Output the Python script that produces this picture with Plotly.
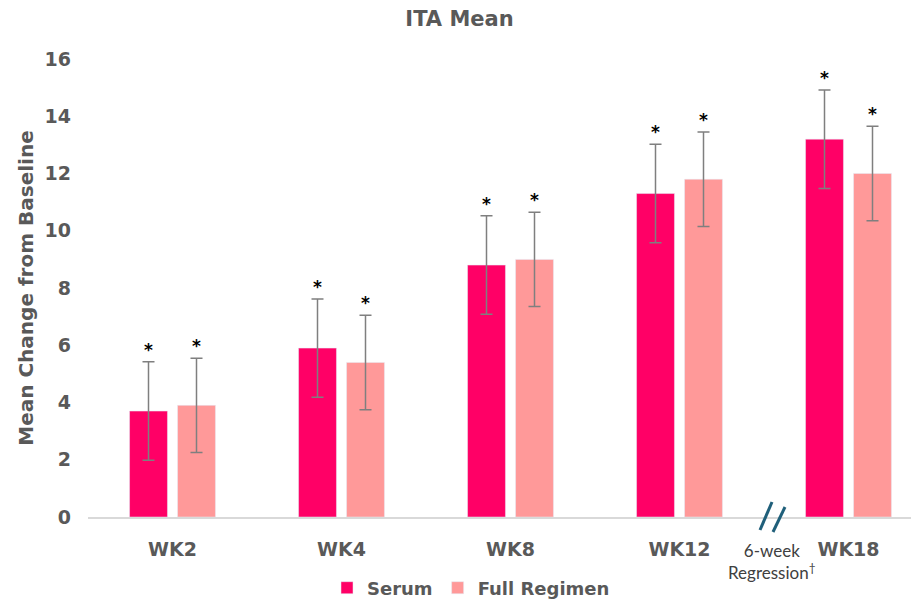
import plotly.graph_objects as go

categories = ["WK2", "WK4", "WK8", "WK12", "WK18"]
serum = [3.7, 5.9, 8.8, 11.3, 13.2]
serum_err = [1.72, 1.72, 1.72, 1.72, 1.72]
full_regimen = [3.9, 5.4, 9.0, 11.8, 12.0]
full_err = [1.65, 1.65, 1.65, 1.65, 1.65]
y_ticks = [0, 2, 4, 6, 8, 10, 12, 14, 16]

GREY = "#595959"
FONT = "DejaVu Sans"

# The page body has an 8px margin, so the figure is sized to fit the window.
W, H = 911, 597
ML, MT, MB, MR = 80, 51, 88, 0
PW = W - ML - MR
PH = H - MT - MB

fig = go.Figure()
fig.add_trace(go.Bar(
    name="Serum", x=categories, y=serum, marker_color="#FF0066",
    error_y=dict(type="data", array=serum_err, color="#7f7f7f", thickness=1.5, width=6),
))
fig.add_trace(go.Bar(
    name="Full Regimen", x=categories, y=full_regimen, marker_color="#FF9999",
    error_y=dict(type="data", array=full_err, color="#7f7f7f", thickness=1.5, width=6),
))

annotations = []
for i, c in enumerate(categories):
    for vals, errs, shift in ((serum, serum_err, -24), (full_regimen, full_err, 24)):
        annotations.append(dict(
            x=c, y=vals[i] + errs[i], xref="x", yref="y", text="<b>*</b>", showarrow=False,
            xshift=shift, yshift=12, font=dict(family=FONT, size=17, color="black"),
        ))

# "6-week Regression" label (plot-area relative, reference pixel positions)
annotations.append(dict(
    x=(772 - 88) / PW, y=(517 - 561) / PH, xref="paper", yref="paper",
    xanchor="center", yanchor="middle",
    text="6-week<br>Regression<sup>†</sup>", showarrow=False,
    font=dict(family="Lato", size=17, color="#404040"), align="center",
))

fig.update_layout(
    width=W, height=H,
    margin=dict(l=ML, r=MR, t=MT, b=MB),
    paper_bgcolor="white", plot_bgcolor="white",
    barmode="group", bargap=0.432, bargroupgap=0.21,
    title=dict(text="<b>ITA Mean</b>", x=0.5 - 4 / W, xref="container", xanchor="center",
               y=1 - 10.5 / H, yref="container", yanchor="middle",
               font=dict(family=FONT, size=21, color=GREY)),
    font=dict(family=FONT, color=GREY),
    xaxis=dict(range=[-0.5, -0.5 + PW / 169], showline=True, linecolor="#d9d9d9", linewidth=1.5,
               ticks="", ticklabelstandoff=14,
               tickfont=dict(family=FONT, size=19, color=GREY, weight="bold"),
               showgrid=False, fixedrange=True),
    yaxis=dict(range=[0, 16], tickvals=y_ticks, showgrid=False, zeroline=False, showline=False,
               ticks="", ticklabelstandoff=16,
               tickfont=dict(family=FONT, size=19, color=GREY, weight="bold"),
               title=dict(text="<b>Mean Change from Baseline</b>",
                          font=dict(family=FONT, size=20, color=GREY), standoff=5)),
    legend=dict(orientation="h", x=463 / W, xref="container", xanchor="center",
                y=1 - 580 / H, yref="container", yanchor="middle",
                font=dict(family=FONT, size=18, color=GREY, weight="bold"),
                itemwidth=30, traceorder="normal"),
    annotations=annotations,
    showlegend=True,
)

# axis-break slashes (reference pixel positions, relative to the plot area)
for x0, y0, x1, y1 in ((760, 530, 772, 502), (773, 532, 785, 507)):
    fig.add_shape(type="line", xref="paper", yref="paper",
                  x0=(x0 - 88) / PW, y0=(517 - y0) / PH, x1=(x1 - 88) / PW, y1=(517 - y1) / PH,
                  line=dict(color="#1F5F7A", width=3))

fig.write_html("out.html")
